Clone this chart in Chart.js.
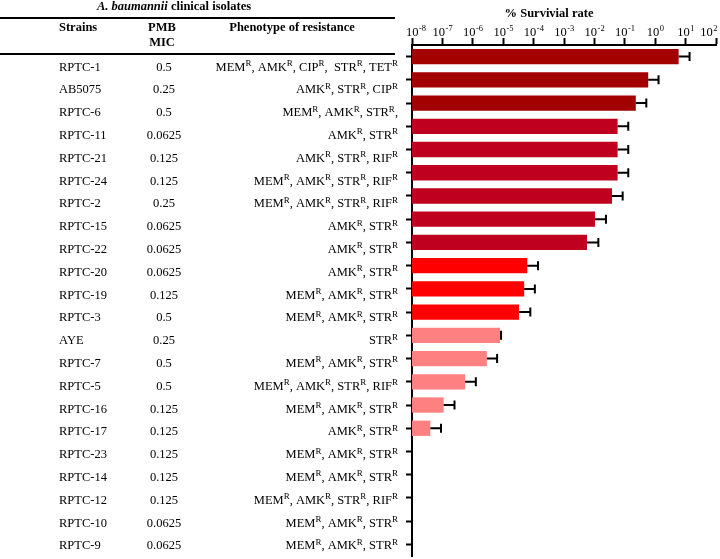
<!DOCTYPE html>
<html>
<head>
<meta charset="utf-8">
<script src="https://cdn.jsdelivr.net/npm/chart.js@4.4.1/dist/chart.umd.min.js"></script>
<style>
  html, body { margin: 0; padding: 0; background: #fff; }
  #wrap { position: relative; width: 720px; height: 559px; }
</style>
</head>
<body>
<div id="wrap"><canvas id="chart" width="720" height="559"></canvas></div>
<script>
// Table columns
const strains = ['RPTC-1', 'AB5075', 'RPTC-6', 'RPTC-11', 'RPTC-21', 'RPTC-24', 'RPTC-2', 'RPTC-15',
  'RPTC-22', 'RPTC-20', 'RPTC-19', 'RPTC-3', 'AYE', 'RPTC-7', 'RPTC-5', 'RPTC-16', 'RPTC-17',
  'RPTC-23', 'RPTC-14', 'RPTC-12', 'RPTC-10', 'RPTC-9'];
const micValues = ['0.5', '0.25', '0.5', '0.0625', '0.125', '0.125', '0.25', '0.0625',
  '0.0625', '0.0625', '0.125', '0.5', '0.25', '0.5', '0.5', '0.125', '0.125',
  '0.125', '0.125', '0.125', '0.0625', '0.0625'];
// "^R" marks a superscript R
const phenotypes = [
  'MEM^R, AMK^R, CIP^R,  STR^R, TET^R',
  'AMK^R, STR^R, CIP^R',
  'MEM^R, AMK^R, STR^R,',
  'AMK^R, STR^R',
  'AMK^R, STR^R, RIF^R',
  'MEM^R, AMK^R, STR^R, RIF^R',
  'MEM^R, AMK^R, STR^R, RIF^R',
  'AMK^R, STR^R',
  'AMK^R, STR^R',
  'AMK^R, STR^R',
  'MEM^R, AMK^R, STR^R',
  'MEM^R, AMK^R, STR^R',
  'STR^R',
  'MEM^R, AMK^R, STR^R',
  'MEM^R, AMK^R, STR^R, RIF^R',
  'MEM^R, AMK^R, STR^R',
  'AMK^R, STR^R',
  'MEM^R, AMK^R, STR^R',
  'MEM^R, AMK^R, STR^R',
  'MEM^R, AMK^R, STR^R, RIF^R',
  'MEM^R, AMK^R, STR^R',
  'MEM^R, AMK^R, STR^R'
];

// % survival (bar) and upper end of the error bar
const survival = [5.9, 0.59, 0.23, 0.058, 0.058, 0.058, 0.038, 0.0105,
  0.0057, 6.2e-5, 4.9e-5, 3.3e-5, 7.9e-6, 2.9e-6, 5.6e-7, 1.1e-7, 4e-8,
  null, null, null, null, null];
const survivalUpper = [13.5, 1.29, 0.51, 0.13, 0.13, 0.13, 0.085, 0.024,
  0.0135, 1.4e-4, 1.1e-4, 7.8e-5, 8.5e-6, 6.3e-6, 1.26e-6, 2.5e-7, 9e-8,
  null, null, null, null, null];

const xTickExponents = [-8, -7, -6, -5, -4, -3, -2, -1, 0, 1, 2];

// colour group per strain
const colorGroup = [0, 0, 0, 1, 1, 1, 1, 1, 1, 2, 2, 2, 3, 3, 3, 3, 3, 3, 3, 3, 3, 3];
const palette = ['#a30000', '#c0001f', '#ff0000', '#ff8080'];

const SERIF = '"Liberation Serif", "Times New Roman", serif';

function drawRich(ctx, text, rightX, baseY, size) {
    const parts = text.split('^R');
    const supSize = Math.round(size * 0.68);
    let total = 0;
    parts.forEach((p, i) => {
        ctx.font = size + 'px ' + SERIF;
        total += ctx.measureText(p).width;
        if (i < parts.length - 1) {
            ctx.font = supSize + 'px ' + SERIF;
            total += ctx.measureText('R').width;
        }
    });
    let x = rightX - total;
    ctx.textAlign = 'left';
    parts.forEach((p, i) => {
        ctx.font = size + 'px ' + SERIF;
        ctx.fillText(p, x, baseY);
        x += ctx.measureText(p).width;
        if (i < parts.length - 1) {
            ctx.font = supSize + 'px ' + SERIF;
            ctx.fillText('R', x, baseY - 4.5);
            x += ctx.measureText('R').width;
        }
    });
}

// error bars
const errorBars = {
    id: 'errorBars',
    afterDatasetsDraw(chart) {
        const ctx = chart.ctx;
        const xs = chart.scales.x;
        const meta = chart.getDatasetMeta(0);
        ctx.save();
        ctx.strokeStyle = '#000';
        ctx.lineWidth = 2;
        meta.data.forEach((bar, i) => {
            if (survival[i] == null) return;
            const x1 = xs.getPixelForValue(survivalUpper[i]);
            ctx.beginPath();
            ctx.moveTo(bar.x, bar.y);
            ctx.lineTo(x1, bar.y);
            ctx.moveTo(x1, bar.y - 4.5);
            ctx.lineTo(x1, bar.y + 4.5);
            ctx.stroke();
        });
        ctx.restore();
    }
};

// table + axis labels
const tableAndLabels = {
    id: 'tableAndLabels',
    afterDraw(chart) {
        const ctx = chart.ctx;
        const xs = chart.scales.x;
        ctx.save();
        ctx.fillStyle = '#000';
        ctx.textBaseline = 'alphabetic';

        // x tick labels 10^n
        xs.ticks.forEach((t, i) => {
            const e = xTickExponents[i];
            const exp = e < 0 ? '-' + (-e) : String(e);
            ctx.font = '12.5px ' + SERIF;
            const wb = ctx.measureText('10').width;
            ctx.font = '8.5px ' + SERIF;
            const we = ctx.measureText(exp).width;
            let left = xs.getPixelForValue(t.value) - (wb + we) / 2;
            left = Math.max(406, Math.min(left, 717 - wb - we));
            ctx.textAlign = 'left';
            ctx.font = '12.5px ' + SERIF;
            ctx.fillText('10', left, 36);
            ctx.font = '8.5px ' + SERIF;
            ctx.fillText(exp, left + wb + 0.5, 31);
        });

        // axis title
        ctx.font = 'bold 12.5px ' + SERIF;
        ctx.textAlign = 'center';
        ctx.fillText('% Survivial rate', 549, 17);

        // table title
        ctx.textAlign = 'left';
        ctx.font = 'italic bold 12.5px ' + SERIF;
        const w1 = ctx.measureText('A. baumannii').width;
        ctx.font = 'bold 12.5px ' + SERIF;
        const w2 = ctx.measureText(' clinical isolates').width;
        const tx = 174 - (w1 + w2) / 2;
        ctx.font = 'italic bold 12.5px ' + SERIF;
        ctx.fillText('A. baumannii', tx, 10);
        ctx.font = 'bold 12.5px ' + SERIF;
        ctx.fillText(' clinical isolates', tx + w1, 10);

        // rules
        ctx.fillRect(0, 17, 395, 2);
        ctx.fillRect(0, 53, 395, 2);

        // headers
        ctx.font = 'bold 12.5px ' + SERIF;
        ctx.textAlign = 'left';
        ctx.fillText('Strains', 59, 31);
        ctx.textAlign = 'center';
        ctx.fillText('PMB', 162, 31);
        ctx.fillText('MIC', 162, 46);
        ctx.fillText('Phenotype of resistance', 292, 31);

        // rows
        strains.forEach((s, i) => {
            const y = 66 + 22.8 * i + 4.5;
            ctx.font = '12.5px ' + SERIF;
            ctx.textAlign = 'left';
            ctx.fillText(s, 59, y);
            ctx.textAlign = 'center';
            ctx.fillText(micValues[i], 164, y);
            drawRich(ctx, phenotypes[i], 398, y, 12.5);
        });
        ctx.restore();
    }
};

new Chart(document.getElementById('chart').getContext('2d'), {
    type: 'bar',
    data: {
        labels: strains,
        datasets: [{
            data: survival,
            backgroundColor: colorGroup.map(g => palette[g]),
            borderWidth: 0,
            barPercentage: 0.66,
            categoryPercentage: 1
        }]
    },
    options: {
        indexAxis: 'y',
        responsive: false,
        animation: false,
        layout: { padding: { left: 406, right: 4, top: 38, bottom: 3 } },
        plugins: { legend: { display: false }, tooltip: { enabled: false } },
        scales: {
            x: {
                type: 'logarithmic',
                position: 'top',
                min: 1e-8,
                max: 1e2,
                afterBuildTicks: s => { s.ticks = xTickExponents.map(e => ({ value: Math.pow(10, e) })); },
                afterFit: s => { s.height = 7; },
                ticks: { display: false },
                grid: { drawOnChartArea: false, tickLength: 7, tickColor: '#000', tickWidth: 2 },
                border: { color: '#000', width: 2 }
            },
            y: {
                afterFit: s => { s.width = 6; },
                ticks: { display: false },
                grid: { drawOnChartArea: false, offset: false, tickLength: 6, tickColor: '#000', tickWidth: 2 },
                border: { color: '#000', width: 2 }
            }
        }
    },
    plugins: [errorBars, tableAndLabels]
});
</script>
</body>
</html>
